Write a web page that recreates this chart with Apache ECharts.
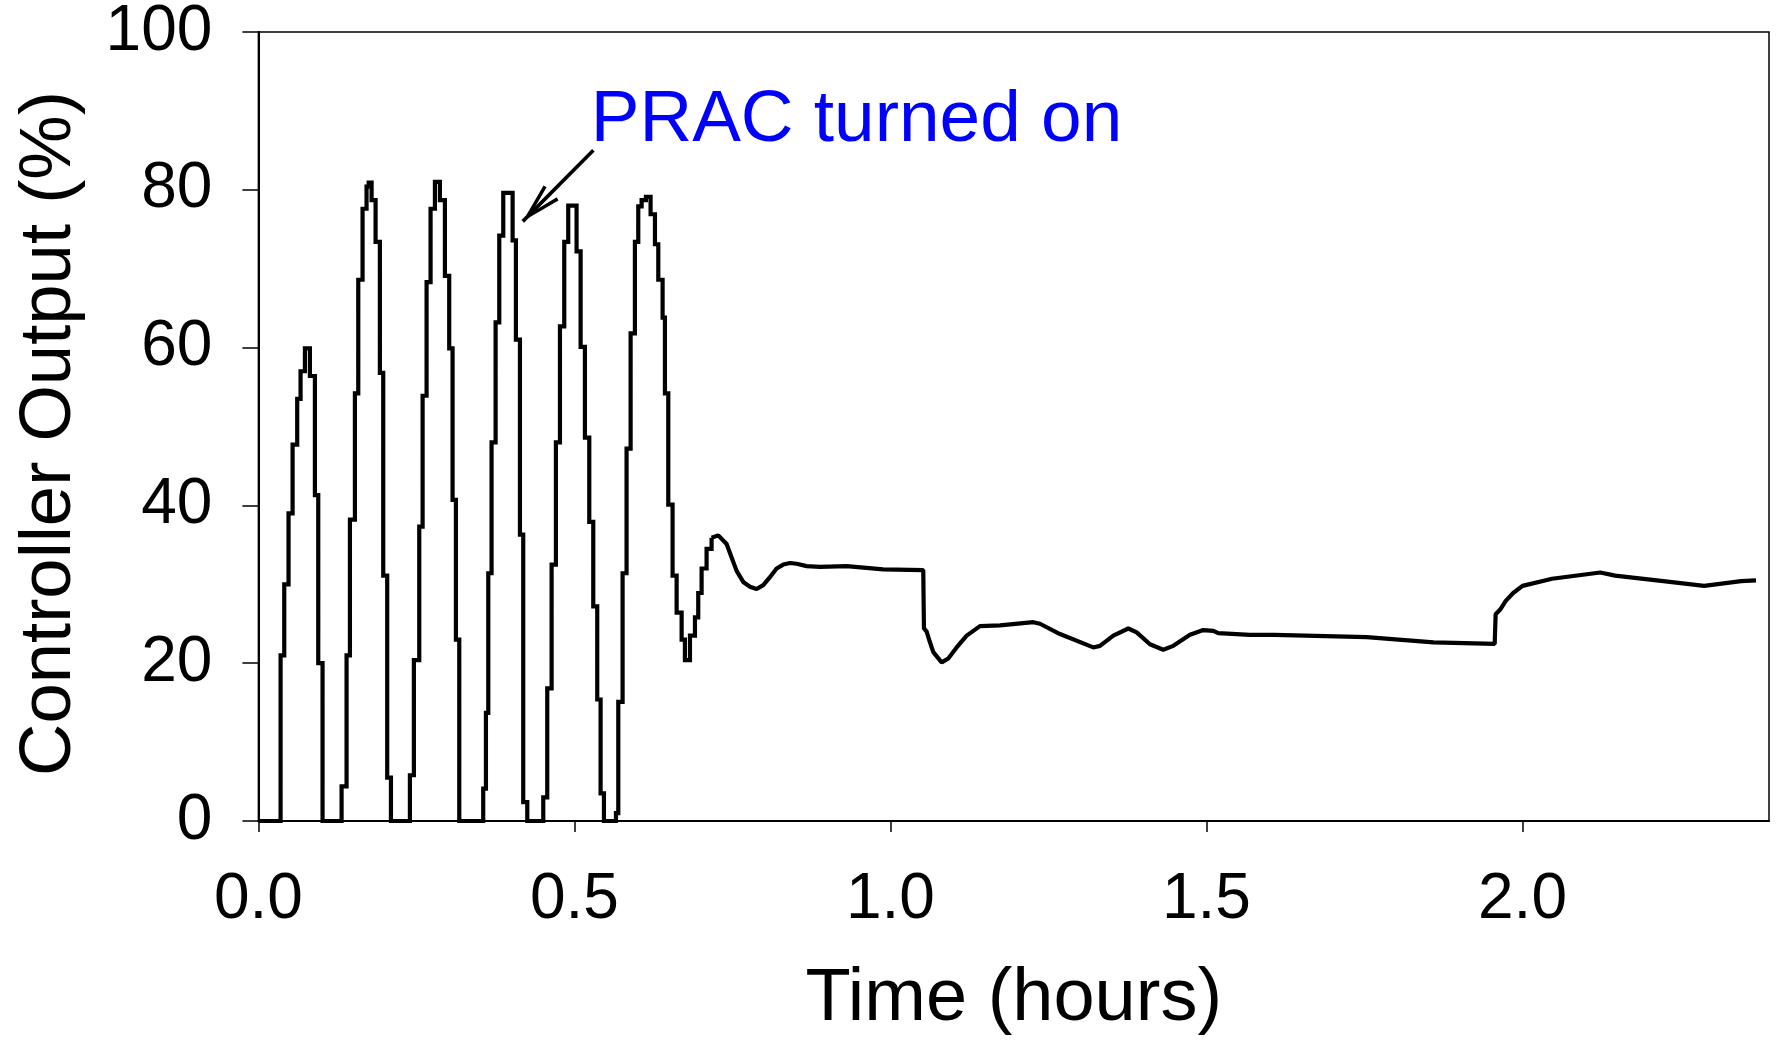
<!DOCTYPE html>
<html>
<head>
<meta charset="utf-8">
<script src="https://cdn.jsdelivr.net/npm/echarts@6/dist/echarts.min.js"></script>
<style>
html,body{margin:0;padding:0;background:#fff;}
#chart{width:1776px;height:1042px;}
</style>
</head>
<body>
<div id="chart"></div>
<script>
// Relay-feedback (stepped) phase: time (h) at which each new output level starts
const relayTime = [0, 0.0351, 0.0409, 0.0477, 0.0541, 0.0614, 0.0667, 0.0736, 0.0815, 0.0894, 0.0947, 0.1015,
  0.1316, 0.1395, 0.1448, 0.1527, 0.1580, 0.1648, 0.1711, 0.1745, 0.1791, 0.1854, 0.1922, 0.1975, 0.2038, 0.2097,
  0.2397, 0.2460, 0.2545, 0.2598, 0.2661, 0.2724, 0.2793, 0.2872, 0.2951, 0.3019, 0.3072, 0.3125, 0.3178,
  0.3557, 0.3600, 0.3637, 0.3689, 0.3753, 0.3811, 0.3874, 0.4022, 0.4074, 0.4138, 0.4190, 0.4254,
  0.4507, 0.4570, 0.4639, 0.4707, 0.4771, 0.4839, 0.4902, 0.5034, 0.5098, 0.5166, 0.5235, 0.5298, 0.5361, 0.5414, 0.5467,
  0.5657, 0.5694, 0.5762, 0.5825, 0.5889, 0.5957, 0.6010, 0.6063, 0.6131, 0.6205, 0.6274, 0.6327, 0.6395, 0.6432,
  0.6485, 0.6553, 0.6617, 0.6696, 0.6748, 0.6828, 0.6907, 0.6959, 0.7012, 0.7091, 0.7170];
const relayOutput = [0, 21.0, 30.0, 39.0, 47.7, 53.5, 57.0, 59.9, 56.4, 41.3, 20.0, 0,
  4.4, 21.0, 38.2, 54.2, 68.6, 77.6, 80.4, 80.9, 78.7, 73.4, 56.8, 31.1, 5.5, 0,
  5.8, 20.4, 37.3, 53.9, 68.3, 77.6, 81.0, 78.7, 69.1, 59.9, 40.7, 23.0, 0,
  4.1, 13.7, 31.4, 48.0, 63.2, 74.2, 79.6, 73.6, 61.0, 36.3, 2.4, 0,
  3.0, 16.8, 32.5, 48.0, 62.7, 73.4, 78.0, 72.2, 60.1, 48.6, 37.9, 27.2, 15.4, 3.5, 0,
  1.0, 15.1, 31.4, 47.2, 61.8, 73.4, 77.9, 78.7, 79.1, 76.9, 73.1, 68.6, 63.8, 54.2,
  40.1, 31.1, 26.4, 23.0, 20.4, 23.5, 25.8, 28.9, 32.0, 34.5, 35.9];

// PID (PRAC tuned) phase
const pidTime = [0.7170, 0.7276, 0.7408, 0.7487, 0.7566, 0.7671, 0.7777, 0.7882, 0.7988, 0.8093, 0.8199, 0.8304,
  0.8410, 0.8515, 0.8674, 0.8884, 0.9307, 0.9886, 1.0519, 1.0530, 1.0573, 1.0625, 1.0678, 1.0810, 1.0915, 1.1047,
  1.1206, 1.1416, 1.1733, 1.2260, 1.2366, 1.2682, 1.3209, 1.3315, 1.3526, 1.3763, 1.3896, 1.4106, 1.4316, 1.4475,
  1.4739, 1.4949, 1.5108, 1.5187, 1.5689, 1.6070, 1.7536, 1.8592, 1.9560, 1.9575, 1.9647, 1.9735, 1.9853, 2.0000,
  2.0468, 2.1231, 2.1465, 2.2228, 2.2874, 2.3459, 2.3694];
const pidOutput = [35.9, 36.2, 35.1, 33.4, 31.7, 30.3, 29.7, 29.4, 29.9, 30.9, 32.0, 32.5,
  32.7, 32.6, 32.3, 32.2, 32.3, 31.9, 31.8, 24.4, 24.0, 22.65, 21.4, 20.1, 20.6, 22.0,
  23.5, 24.7, 24.8, 25.2, 25.0, 23.7, 22.0, 22.2, 23.5, 24.4, 23.9, 22.4, 21.7, 22.2,
  23.6, 24.2, 24.1, 23.8, 23.6, 23.6, 23.3, 22.65, 22.45, 26.2, 26.8, 27.9, 28.9, 29.8,
  30.7, 31.5, 31.1, 30.4, 29.8, 30.4, 30.5];

const xTickValues = [0, 0.5, 1.0, 1.5, 2.0];
const yTickValues = [0, 20, 40, 60, 80, 100];

const annotationText = 'PRAC turned on';
const annotationTextAt = [0.525, 88.7];
const arrowFrom = [0.530, 85.0];
const arrowTo = [0.4183, 76.0];

const FONT = "'Liberation Sans', Arial, Helvetica, sans-serif";
const zip = (a, b) => a.map((v, i) => [v, b[i]]);
const chevron = 'path://M10,-41 L10.01,-41 L10,-40.99 Z M10,0 L20.5,40 L17.2,41 L10,13 L2.8,41 L-0.5,40 Z';

const chart = echarts.init(document.getElementById('chart'), null, {renderer: 'canvas'});
chart.setOption({
  animation: false,
  backgroundColor: '#fff',
  grid: {left: 258.4, right: 7, top: 32, bottom: 216.3, show: true, borderColor: '#000', borderWidth: 1.5, containLabel: false},
  xAxis: {
    type: 'value', min: 0, max: 2.39, interval: 0.5,
    name: 'Time (hours)', nameLocation: 'middle', nameGap: 142,
    nameTextStyle: {fontFamily: FONT, fontSize: 74, color: '#000'},
    axisLine: {show: true, onZero: false, lineStyle: {color: '#000', width: 2}},
    axisTick: {show: true, inside: false, length: 11, lineStyle: {color: '#000', width: 1.5}, customValues: xTickValues},
    axisLabel: {fontFamily: FONT, fontSize: 64, color: '#000', margin: 47, customValues: xTickValues,
      formatter: v => v.toFixed(1)},
    splitLine: {show: false}
  },
  yAxis: {
    type: 'value', min: 0, max: 100, interval: 20,
    name: 'Controller Output (%)', nameLocation: 'middle', nameGap: 172,
    nameTextStyle: {fontFamily: FONT, fontSize: 72.5, color: '#000', padding: [0, 14, 0, 0]},
    axisLine: {show: true, lineStyle: {color: '#000', width: 2}},
    axisTick: {show: true, inside: false, length: 16, lineStyle: {color: '#000', width: 1.5}, customValues: yTickValues},
    axisLabel: {fontFamily: FONT, fontSize: 64, color: '#000', margin: 46, customValues: yTickValues},
    splitLine: {show: false}
  },
  series: [
    {
      type: 'line', step: 'end', data: zip(relayTime, relayOutput),
      showSymbol: false, symbol: 'none',
      lineStyle: {color: '#000', width: 4.2, join: 'miter'},
      markLine: {
        silent: true, animation: false,
        lineStyle: {color: '#000', width: 3.6, type: 'solid'},
        label: {show: false},
        data: [[
          {coord: arrowFrom, symbol: 'none'},
          {coord: arrowTo, symbol: chevron, symbolSize: [21, 82]}
        ]]
      },
      markPoint: {
        silent: true, animation: false,
        data: [{
          coord: annotationTextAt, symbol: 'circle', symbolSize: 1,
          itemStyle: {color: 'rgba(0,0,0,0)'},
          label: {show: true, position: 'right', distance: 0, formatter: annotationText,
            color: '#0000ff', fontSize: 73, fontFamily: FONT}
        }]
      }
    },
    {
      type: 'line', data: zip(pidTime, pidOutput),
      showSymbol: false, symbol: 'none',
      lineStyle: {color: '#000', width: 4.2}
    }
  ]
});
</script>
</body>
</html>
